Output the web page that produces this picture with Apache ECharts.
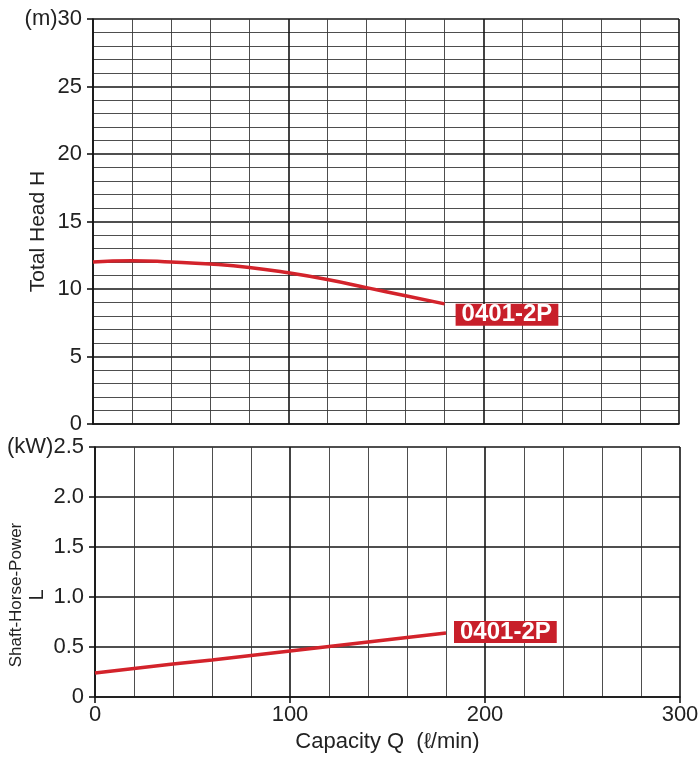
<!DOCTYPE html>
<html><head><meta charset="utf-8">
<script src="https://cdn.jsdelivr.net/npm/echarts@6/dist/echarts.min.js"></script>
<style>html,body{margin:0;padding:0;background:#fff}#c{width:700px;height:759px}</style>
</head><body><div id="c"></div>
<script>
const qHead = [0, 20, 40, 60, 80, 100, 120, 140, 160, 180];
const head = [12.0, 12.1, 12.0, 11.85, 11.6, 11.2, 10.7, 10.1, 9.5, 8.9];
const qPower = [0, 20, 40, 60, 80, 100, 120, 140, 160, 180];
const power = [0.24, 0.285, 0.33, 0.37, 0.415, 0.46, 0.505, 0.55, 0.595, 0.64];
const modelName = '0401-2P';
const headTicks = [0, 5, 10, 15, 20, 25, 30];
const powerTicks = [0, 0.5, 1.0, 1.5, 2.0, 2.5];
const qTicks = [0, 100, 200, 300];

const FONT = 'Liberation Sans';
const RED = '#d3232b';
const boldLine = {color: '#151515', width: 1.6};
const thinLine = {color: '#3a3a3a', width: 0.9};

const endLabel = (offset) => ({
  show: true, formatter: modelName, color: '#fff', fontWeight: 'bold',
  fontSize: 24, fontFamily: FONT, backgroundColor: '#c81f2a', padding: [0, 6, 0, 6],
  lineHeight: 22, offset: offset
});

const chart = echarts.init(document.getElementById('c'));
chart.setOption({
  animation: false,
  textStyle: {fontFamily: FONT},
  grid: [
    {left: 93, right: 21, top: 19, height: 405, containLabel: false, outerBoundsMode: 'none'},
    {left: 95, right: 20, top: 447, height: 250, containLabel: false, outerBoundsMode: 'none'}
  ],
  xAxis: [
    {gridIndex: 0, type: 'value', min: qTicks[0], max: qTicks[3], interval: 100,
     axisLine: {show: true, lineStyle: boldLine}, axisTick: {show: false}, axisLabel: {show: false},
     splitLine: {show: true, lineStyle: boldLine},
     minorTick: {show: false, splitNumber: 5},
     minorSplitLine: {show: true, lineStyle: thinLine}},
    {gridIndex: 1, type: 'value', min: qTicks[0], max: qTicks[3], interval: 100,
     axisLine: {show: true, lineStyle: boldLine},
     axisTick: {show: true, inside: false, length: 6, lineStyle: boldLine},
     axisLabel: {show: true, fontSize: 22, color: '#222', margin: 7, fontFamily: FONT},
     splitLine: {show: true, lineStyle: boldLine},
     minorTick: {show: false, splitNumber: 5},
     minorSplitLine: {show: true, lineStyle: thinLine},
     name: 'Capacity Q  (ℓ/min)', nameLocation: 'middle', nameGap: 34, nameMoveOverlap: false,
     nameTextStyle: {fontSize: 22, color: '#222', fontFamily: FONT}}
  ],
  yAxis: [
    {gridIndex: 0, type: 'value', min: headTicks[0], max: headTicks[6], interval: 5,
     axisLine: {show: true, lineStyle: boldLine},
     axisTick: {show: true, inside: false, length: 6, lineStyle: boldLine},
     axisLabel: {show: true, fontSize: 22, color: '#222', margin: 11, fontFamily: FONT,
       formatter: v => v === 30 ? '(m)30' : String(v)},
     splitLine: {show: true, lineStyle: boldLine},
     minorTick: {show: false, splitNumber: 5},
     minorSplitLine: {show: true, lineStyle: thinLine},
     name: 'Total Head H', nameLocation: 'middle', nameGap: 44, nameRotate: 90, nameMoveOverlap: false,
     nameTextStyle: {fontSize: 21, color: '#222', fontFamily: FONT, padding: [0, 0, 0, -20]}},
    {gridIndex: 1, type: 'value', min: powerTicks[0], max: powerTicks[5], interval: 0.5,
     axisLine: {show: true, lineStyle: boldLine},
     axisTick: {show: true, inside: false, length: 6, lineStyle: boldLine},
     axisLabel: {show: true, fontSize: 22, color: '#222', margin: 11, fontFamily: FONT,
       formatter: v => v === 0 ? '0' : (v === 2.5 ? '(kW)2.5' : v.toFixed(1))},
     splitLine: {show: true, lineStyle: boldLine},
     name: '{a|Shaft-Horse-Power}\n{b|L}', nameLocation: 'middle', nameGap: 47, nameRotate: 90,
     nameMoveOverlap: false,
     nameTextStyle: {color: '#222', fontFamily: FONT, padding: [0, 0, 0, -46],
       rich: {a: {fontSize: 17, lineHeight: 21, fontFamily: FONT, color: '#222'},
              b: {fontSize: 20, lineHeight: 21, fontFamily: FONT, color: '#222'}}}}
  ],
  series: [
    {type: 'line', xAxisIndex: 0, yAxisIndex: 0, smooth: true, symbol: 'none',
     data: qHead.map((q, i) => [q, head[i]]),
     lineStyle: {color: RED, width: 3.5},
     endLabel: endLabel([3, 11])},
    {type: 'line', xAxisIndex: 1, yAxisIndex: 1, smooth: false, symbol: 'none',
     data: qPower.map((q, i) => [q, power[i]]),
     lineStyle: {color: RED, width: 3.5},
     endLabel: endLabel([0, -1])}
  ]
});
</script></body></html>
